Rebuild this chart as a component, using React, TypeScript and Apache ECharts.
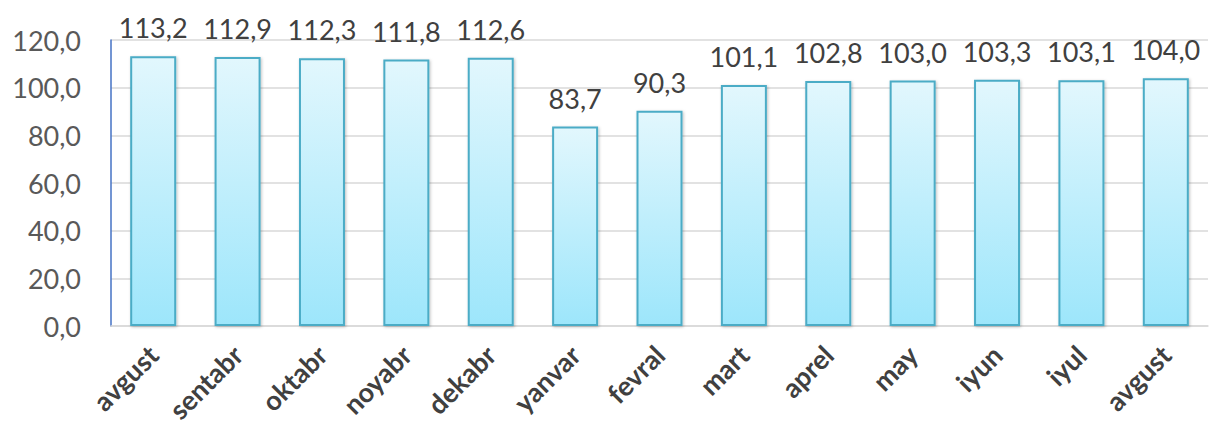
import React, { useEffect, useRef } from "react";
import * as echarts from "echarts";

const categories = ["avgust", "sentabr", "oktabr", "noyabr", "dekabr", "yanvar", "fevral", "mart", "aprel", "may", "iyun", "iyul", "avgust"];
const values = [113.2, 112.9, 112.3, 111.8, 112.6, 83.7, 90.3, 101.1, 102.8, 103.0, 103.3, 103.1, 104.0];

const fmt = (v: number) => v.toFixed(1).replace(".", ",");

export default function App() {
  const ref = useRef<HTMLDivElement>(null);
  useEffect(() => {
    const chart = echarts.init(ref.current!, null, { renderer: "svg" });
    chart.setOption({
      animation: false,
      grid: { left: 111, right: 5, top: 40, bottom: 110, containLabel: false },
      xAxis: {
        type: "category",
        data: categories,
        axisLine: { show: true, lineStyle: { color: "#d9d9d9", width: 1.5 } },
        axisTick: { show: false },
        axisLabel: {
          rotate: 45,
          interval: 0,
          margin: 24,
          fontFamily: "Lato, 'Open Sans', sans-serif",
          fontWeight: "bold",
          fontSize: 27,
          color: "#404040",
        },
      },
      yAxis: {
        type: "value",
        min: 0,
        max: 120,
        interval: 20,
        axisLine: { show: true, lineStyle: { color: "#4472c4", width: 1.5 } },
        axisTick: { show: false },
        splitLine: { lineStyle: { color: "#d9d9d9", width: 1.5 } },
        axisLabel: {
          formatter: (v: number) => fmt(v),
          margin: 30,
          fontFamily: "Lato, 'Open Sans', sans-serif",
          fontSize: 27,
          color: "#595959",
        },
      },
      series: [
        {
          type: "bar",
          data: values,
          barWidth: 46,
          itemStyle: {
            color: new echarts.graphic.LinearGradient(0, 0, 0, 1, [
              { offset: 0, color: "#e2f7fd" },
              { offset: 1, color: "#9de6fb" },
            ]),
            borderColor: "#4bacc6",
            borderWidth: 2,
            shadowColor: "rgba(0,0,0,0.25)",
            shadowBlur: 3,
            shadowOffsetX: 1,
            shadowOffsetY: 1,
          },
          label: {
            show: true,
            position: "top",
            distance: 15,
            formatter: (p: any) => fmt(p.value),
            fontFamily: "Lato, 'Open Sans', sans-serif",
            fontSize: 27,
            color: "#404040",
          },
        },
      ],
    });
    return () => chart.dispose();
  }, []);
  return <div ref={ref} style={{ width: 1213, height: 436, position: "absolute", left: 0, top: 0, background: "#fff" }} />;
}
